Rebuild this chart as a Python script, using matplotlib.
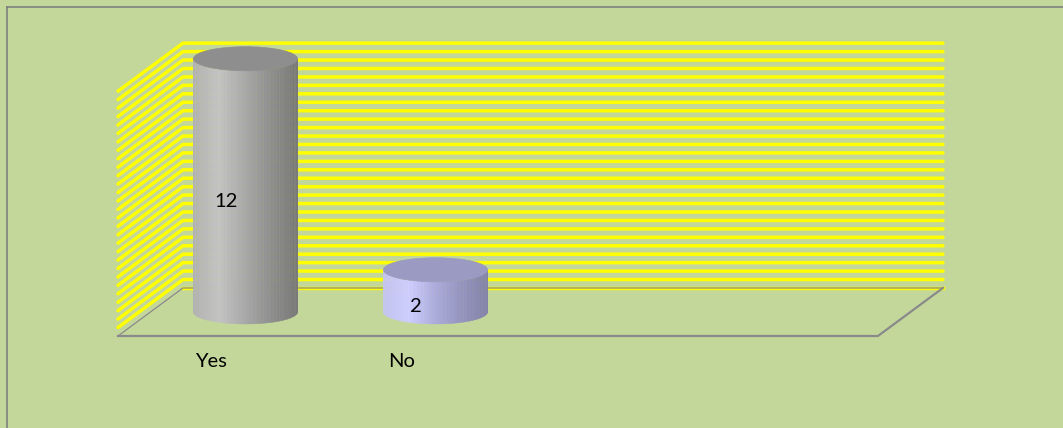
import numpy as np
import matplotlib.pyplot as plt
from matplotlib.colors import LinearSegmentedColormap
from matplotlib.patches import Ellipse, Polygon
from matplotlib.lines import Line2D

categories = ['Yes', 'No']
values = [12, 2]
n_slots = 4            # floor is laid out for four category slots
grid_step = 0.4
grid_top = 11.6

bg = '#C4D79B'
yellow = '#FFFF00'
edge_gray = '#8A8A8A'

# oblique depth of the 3-D box, in data units
ddx, ddy = 0.342, 2.275
rx, ry = 0.274, 0.57

side_maps = [
    LinearSegmentedColormap.from_list('gray_cyl', ['#B2B2B2', '#C3C3C3', '#A8A8A8', '#8E8E8E', '#787878']),
    LinearSegmentedColormap.from_list('lav_cyl', ['#C4C4F2', '#CDCDFF', '#ACACDC', '#9494C0', '#8282A8']),
]
top_colors = ['#8E8E8E', '#9A9AC2']

fig = plt.figure(figsize=(10.63, 4.28), dpi=100, facecolor=bg)
ax = fig.add_axes([0, 0, 1, 1])
ax.set_facecolor(bg)
ax.set_xlim(-1.121, 4.474)
ax.set_ylim(-4.36, 15.92)
ax.axis('off')

x0, x1 = -0.5, n_slots - 0.5

# back wall and side wall gridlines
levels = np.arange(0, grid_top + 1e-9, grid_step)
for v in levels:
    if v == 0:
        ax.plot([x0 + ddx, x1 + ddx], [ddy, ddy], color=yellow, lw=2.5, zorder=1)
        continue
    ax.plot([x0, x0 + ddx, x1 + ddx], [v, v + ddy, v + ddy], color=yellow,
            lw=2.5, solid_capstyle='round', solid_joinstyle='round', zorder=1)

# floor outline
ax.plot([x0, x1, x1 + ddx], [0, 0, ddy], color=edge_gray, lw=1.6, zorder=2)
ax.plot([x0, x0 + ddx, x1 + ddx], [0, ddy, ddy], color=edge_gray, lw=0.9, zorder=2)

# cylinders
theta = np.linspace(np.pi, 2 * np.pi, 45)
for i, (cat, v) in enumerate(zip(categories, values)):
    cx = i + ddx / 2
    cy0 = ddy / 2
    cy1 = cy0 + v
    xs = cx + rx * np.cos(theta)
    sy = ry * np.sin(theta)
    cmap = side_maps[i]
    for k in range(len(theta) - 1):
        t = ((xs[k] + xs[k + 1]) / 2 - (cx - rx)) / (2 * rx)
        poly = Polygon([(xs[k], cy0 + sy[k]), (xs[k + 1], cy0 + sy[k + 1]),
                        (xs[k + 1], cy1 + sy[k + 1]), (xs[k], cy1 + sy[k])],
                       closed=True, facecolor=cmap(t), edgecolor=cmap(t),
                       lw=0.3, zorder=3)
        ax.add_patch(poly)
    ax.add_patch(Ellipse((cx, cy1), 2 * rx, 2 * ry, facecolor=top_colors[i],
                         edgecolor=top_colors[i], lw=0.5, zorder=4))
    ax.text(i + 0.07, v / 2 + 0.38, str(v), ha='center', va='center',
            fontsize=14.5, family='Lato', color='black', zorder=5)
    ax.text(i - 0.01, -1.23, cat, ha='center', va='center',
            fontsize=14.5, family='Lato', color='black', zorder=5)

# chart area border
fig.add_artist(Line2D([7 / 1063, 7 / 1063], [0, 1 - 7 / 428], transform=fig.transFigure,
                      color='#7F7F7F', lw=1.2))
fig.add_artist(Line2D([7 / 1063, 1], [1 - 7 / 428, 1 - 7 / 428], transform=fig.transFigure,
                      color='#7F7F7F', lw=1.2))

fig.savefig('out.png', dpi=100, facecolor=bg)
